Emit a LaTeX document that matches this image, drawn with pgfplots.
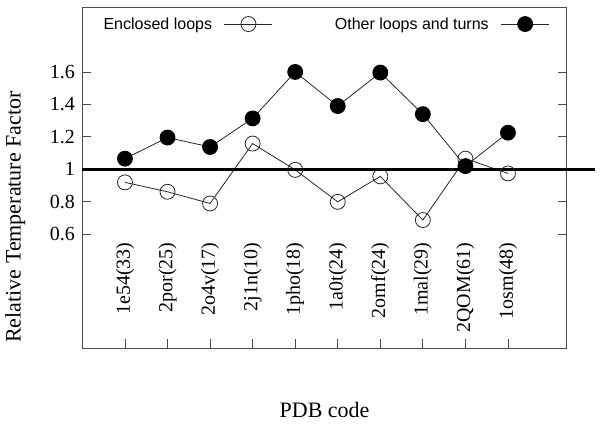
\documentclass[border=0pt]{standalone}
\usepackage{pgfplots}
\pgfplotsset{compat=1.18}
\usepackage{fontspec}
\setmainfont{Liberation Serif}
\newfontfamily\legfont{Liberation Sans}
\begin{document}
\begin{tikzpicture}
\begin{axis}[
  name=ax,
  scale only axis, width=484.3pt, height=341pt,
  xmin=0, xmax=11.38, ymin=-0.1, ymax=2.0,
  xtick={1,...,10},
  xticklabels={1e54(33),2por(25),2o4v(17),2j1n(10),1pho(18),1a0t(24),2omf(24),1mal(29),2QOM(61),1osm(48)},
  ytick={0.6,0.8,1,1.2,1.4,1.6},
  yticklabels={0.6,0.8,1,1.2,1.4,1.6},
  xtick pos=bottom, ytick pos=both,
  tick align=inside, major tick length=8.5pt,
  tick style={black!70, line width=0.8pt},
  axis line style={black!70, line width=0.9pt},
  tick label style={font=\fontsize{20}{24}\selectfont},
  xticklabel style={yshift=109pt, rotate=90, anchor=east},
  yticklabel style={xshift=-4pt},
  xlabel={PDB code},
  ylabel={Relative Temperature Factor},
  every axis x label/.style={at={(rel axis cs:0.5,0)}, anchor=center, yshift=-62pt, font=\fontsize{22}{26}\selectfont},
  every axis y label/.style={at={(rel axis cs:0,0.384)}, xshift=-67pt, anchor=center, rotate=90, font=\fontsize{22}{26}\selectfont},
  clip=false,
  legend columns=2,
  legend plot pos=right,
  legend style={draw=none, fill=none, inner sep=0pt, font=\legfont\fontsize{16}{19}\selectfont,
    at={(rel axis cs:0.965,0.95)}, anchor=east,
    /tikz/every odd column/.append style={column sep=10pt},
    /tikz/every even column/.append style={column sep=60pt}},
  legend image code/.code={\draw[mark repeat=2, mark phase=2, #1] plot coordinates {(0pt,0pt) (24pt,0pt) (48pt,0pt)};},
]
\addplot[black!85, line width=0.8pt, mark=o, mark size=7.5pt, mark options={solid, line width=0.8pt}]
  coordinates {(1,0.92) (2,0.862) (3,0.79) (4,1.159) (5,0.997) (6,0.80) (7,0.957) (8,0.688) (9,1.066) (10,0.975)};
\addlegendentry{Enclosed loops}
\addplot[black!85, line width=0.8pt, mark=*, mark size=7.5pt, mark options={solid, fill=black, draw=black}]
  coordinates {(1,1.066) (2,1.196) (3,1.138) (4,1.314) (5,1.60) (6,1.39) (7,1.596) (8,1.34) (9,1.02) (10,1.226)};
\addlegendentry{Other loops and turns}
\addplot[black, line width=2.8pt, forget plot] coordinates {(0,1) (12.04,1)};
\end{axis}
\pgfresetboundingbox
\path[use as bounding box] ([xshift=-82.4pt,yshift=-87pt]ax.south west) rectangle ([xshift=35.3pt,yshift=7pt]ax.north east);
\end{tikzpicture}
\end{document}
